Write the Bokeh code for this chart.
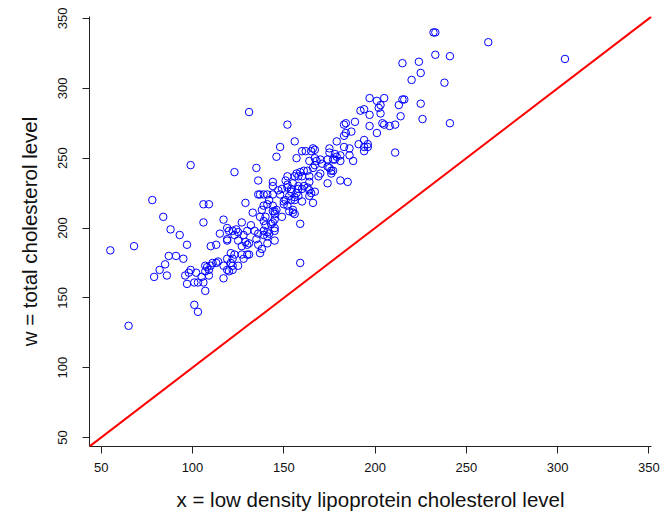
from bokeh.plotting import figure
from bokeh.models import Range1d, FixedTicker, Slope, ColumnDataSource
from bokeh.embed import file_html
from bokeh.resources import INLINE

# x = low density lipoprotein cholesterol level
ldl = [232, 233, 262, 304, 215, 224, 233, 241, 225, 220, 238, 197, 201, 205, 215, 216,
       203, 202, 213, 225, 192, 194, 197, 203, 214, 226, 241, 184, 189, 197, 204, 205,
       208, 211, 201, 183, 184, 187, 183, 186, 186, 188, 181, 181, 191, 194, 196, 196,
       194, 211, 181, 185, 179, 175, 175, 178, 179, 178, 177, 174, 194, 183, 174, 152,
       156, 148, 146, 160, 162, 165, 166, 167, 157, 170, 168, 171, 174, 175, 176, 176,
       177, 164, 167, 167, 166, 163, 161, 159, 157, 158, 160, 156, 152, 151, 152, 155,
       158, 161, 164, 164, 169, 170, 144, 144, 149, 147, 144, 141, 139, 137, 148, 152,
       154, 158, 160, 163, 164, 165, 167, 164, 154, 157, 158, 156, 153, 154, 156, 151,
       150, 150, 160, 166, 142, 141, 139, 138, 144, 146, 145, 145, 144, 152, 153, 155,
       156, 155, 149, 145, 140, 139, 137, 159, 144, 143, 145, 140, 139, 141, 142, 145,
       139, 141, 145, 123, 78, 106, 109, 129, 136, 84, 106, 117, 88, 93, 97, 87,
       91, 95, 85, 82, 79, 86, 115, 110, 113, 119, 120, 122, 119, 119, 124, 125,
       127, 123, 125, 128, 130, 127, 129, 130, 131, 132, 134, 135, 133, 136, 136, 136,
       138, 137, 141, 159, 123, 121, 119, 122, 121, 122, 125, 119, 120, 122, 127, 128,
       130, 131, 117, 117, 113, 114, 111, 110, 108, 107, 107, 109, 109, 102, 103, 106,
       107, 101, 97, 99, 98, 96, 105, 101, 103, 65, 55, 68, 131, 99, 135]

# w = total cholesterol level
total = [340, 340, 333, 321, 318, 319, 324, 323, 311, 306, 304, 293, 291, 293, 292, 292,
         288, 286, 288, 289, 284, 285, 281, 282, 280, 278, 275, 275, 276, 273, 275, 274,
         273, 274, 268, 266, 268, 269, 258, 257, 252, 248, 248, 252, 260, 263, 260, 258,
         255, 254, 234, 233, 262, 257, 254, 253, 251, 249, 249, 249, 258, 274, 232, 274,
         262, 258, 251, 255, 255, 255, 257, 256, 250, 249, 248, 246, 244, 243, 241, 239,
         241, 248, 250, 245, 243, 241, 241, 240, 239, 237, 237, 237, 237, 234, 231, 232,
         230, 230, 233, 237, 237, 239, 233, 230, 228, 227, 224, 224, 224, 224, 224, 229,
         228, 228, 228, 229, 227, 225, 226, 223, 226, 225, 223, 222, 223, 220, 220, 220,
         219, 217, 219, 218, 220, 217, 216, 213, 216, 213, 212, 210, 212, 216, 212, 211,
         210, 213, 208, 206, 208, 205, 208, 203, 204, 203, 200, 202, 198, 197, 196, 198,
         195, 194, 191, 240, 220, 217, 217, 218, 234, 208, 204, 206, 199, 195, 188, 180,
         180, 178, 174, 170, 165, 166, 196, 187, 188, 200, 198, 198, 192, 191, 199, 197,
         204, 195, 191, 195, 198, 187, 190, 188, 189, 202, 198, 192, 211, 224, 196, 188,
         185, 182, 189, 175, 181, 182, 178, 178, 175, 173, 173, 170, 169, 170, 181, 178,
         181, 181, 173, 164, 175, 176, 175, 173, 172, 173, 169, 170, 166, 168, 161, 161,
         155, 161, 160, 170, 168, 166, 165, 145, 140, 130, 184, 187, 283, 245, 243]

axis_ticks = [50, 100, 150, 200, 250, 300, 350]
lim = [43.6, 351.4]

FONT = "Liberation Sans"

p = figure(width=668, height=515, output_backend="svg", toolbar_location=None,
           x_range=Range1d(lim[0], lim[1]), y_range=Range1d(lim[0], lim[1]),
           min_border_left=89, min_border_top=16, min_border_right=17, min_border_bottom=69,
           frame_width=562, frame_height=430)

p.grid.visible = False
p.outline_line_color = None
p.background_fill_color = "white"
p.border_fill_color = "white"

src = ColumnDataSource(data=dict(x=ldl, w=total))
p.scatter("x", "w", source=src, marker="circle", size=7.5, fill_color=None,
          line_color="#0000FF", line_width=1)

p.add_layout(Slope(gradient=1, y_intercept=0, line_color="#FF0000", line_width=2))

for ax in (p.xaxis[0], p.yaxis[0]):
    ax.ticker = FixedTicker(ticks=axis_ticks)
    ax.minor_tick_line_color = None
    ax.major_tick_in = 0
    ax.major_tick_out = 7
    ax.axis_line_color = "#222222"
    ax.major_tick_line_color = "#222222"
    ax.major_label_text_font = FONT
    ax.major_label_text_font_size = "13px"
    ax.major_label_text_color = "#111111"
    ax.axis_label_text_font = FONT
    ax.axis_label_text_font_size = "20.5px"
    ax.axis_label_text_font_style = "normal"
    ax.axis_label_text_color = "#111111"

p.xaxis.axis_label = "x = low density lipoprotein cholesterol level"
p.yaxis.axis_label = "w = total cholesterol level"
p.yaxis.major_label_orientation = "vertical"
p.xaxis.major_label_standoff = 9
p.yaxis.major_label_standoff = 15
p.xaxis.axis_label_standoff = 13
p.yaxis.axis_label_standoff = 15

open("out.html", "w").write(file_html(p, INLINE))
